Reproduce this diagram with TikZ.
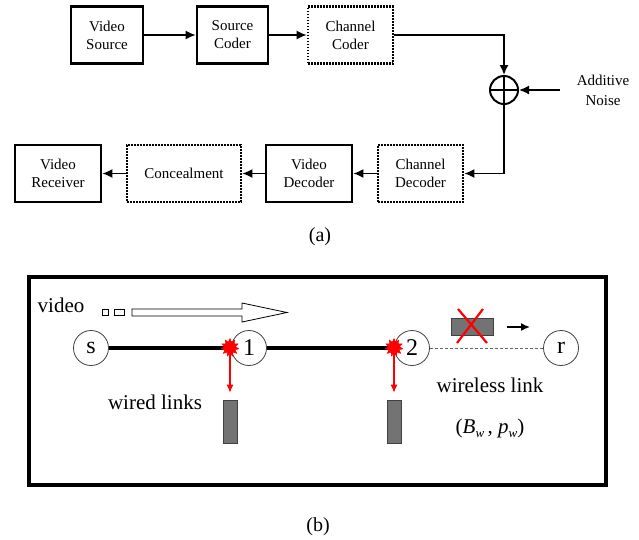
\documentclass[tikz,border=0pt]{standalone}
\usepackage{fontspec}
\setmainfont{Liberation Serif}
\usetikzlibrary{arrows.meta,shapes.geometric}
\begin{document}
\begin{tikzpicture}[x=1pt,y=-1pt,
  sbox/.style={draw,line width=2.6pt,minimum height=57pt,inner sep=0pt,align=center,font=\fontsize{15}{18}\selectfont},
  dbox/.style={sbox,dash pattern=on 1.6pt off 1.4pt},
  arr/.style={-{Latex[length=10pt,width=9pt]},line width=1.6pt},
  vnode/.style={circle,draw=black!75,line width=0.8pt,minimum size=35pt,inner sep=0pt,font=\fontsize{24}{24}\selectfont},
  splash/.style={star,star points=11,star point ratio=1.6,fill=red,draw=red,inner sep=0pt,minimum size=18pt},
  pkt/.style={fill=black!55,draw=black!75,line width=0.6pt,inner sep=0pt},
  redarr/.style={red,-{Latex[length=8pt,width=7pt]},line width=1.1pt},
  lbl/.style={font=\fontsize{21}{21}\selectfont},
  captext/.style={font=\fontsize{20}{20}\selectfont}]
\useasboundingbox (0,0) rectangle (639,539);
% ---------- (a) ----------
\node[sbox,minimum width=72pt] (vs) at (107,35) {Video\\Source};
\node[sbox,minimum width=71pt] (sc) at (232.5,35) {Source\\Coder};
\node[dbox,minimum width=85pt] (cc) at (350.5,35) {Channel\\Coder};
\node[circle,draw,line width=2pt,minimum size=28pt,inner sep=0pt] (add) at (504,90) {};
\draw[line width=2pt] (add.north) -- (add.south) (add.west) -- (add.east);
\node[align=center,font=\fontsize{15}{20}\selectfont] (noise) at (603,90) {Additive\\Noise};
\coordinate (nz) at (560,90);
\node[dbox,minimum width=85pt] (cd) at (420.5,173.5) {Channel\\Decoder};
\node[sbox,minimum width=86pt] (vd) at (309,173.5) {Video\\Decoder};
\node[dbox,minimum width=114pt] (con) at (184,173.5) {Concealment};
\node[sbox,minimum width=86pt] (vr) at (58,173.5) {Video\\Receiver};
\node[captext] (capa) at (320,237) {(a)};
\draw[arr] (vs) -- (sc);
\draw[arr] (sc) -- (cc);
\draw[arr] (cc.east) -| (add.north);
\draw[arr] (nz) -- (add.east);
\draw[arr] (add.south) |- (cd.east);
\draw[arr] (cd) -- (vd);
\draw[arr] (vd) -- (con);
\draw[arr] (con) -- (vr);
% ---------- (b) ----------
\draw[line width=4pt] (29,277) rectangle (606,485);
\node[lbl] (video) at (61,305) {video};
\draw[line width=0.8pt] (102,309) rectangle (108.5,315.5);
\draw[line width=0.8pt] (114,309) rectangle (124,315.5);
\draw[line width=0.8pt,fill=white] (132,309) -- (242,309) -- (242,303) -- (287,312.5) -- (242,322) -- (242,316) -- (132,316) -- cycle;
\node[vnode] (s) at (91,348) {s};
\node[vnode] (n1) at (249,348) {1};
\node[vnode] (n2) at (412,348) {2};
\node[vnode] (r) at (561,348) {r};
\draw[line width=3.5pt] (s) -- (n1);
\draw[line width=3.5pt] (n1) -- (n2);
\draw[dash pattern=on 3pt off 2pt,black!60,line width=1pt] (n2) -- (r);
\node[splash] (sp1) at (230,347.5) {};
\node[splash] (sp2) at (394,347.5) {};
\node[pkt,minimum width=14pt,minimum height=43pt] (b1) at (230,421.5) {};
\node[pkt,minimum width=14pt,minimum height=43pt] (b2) at (394,421.5) {};
\draw[redarr,shorten >=7pt] (sp1.center) -- (b1.north);
\draw[redarr,shorten >=7pt] (sp2.center) -- (b2.north);
\node[pkt,minimum width=42pt,minimum height=17pt] (pk) at (472,326.5) {};
\draw[red,line width=2.2pt] (458,309) -- (487,343);
\draw[red,line width=2.2pt] (483,309) -- (457,343);
\coordinate (m1) at (507,327);
\coordinate (m2) at (530,327);
\draw[-{Latex[length=9pt,width=8pt]},line width=1.6pt] (m1) -- (m2);
\node[lbl] (wired) at (155,402) {wired links};
\node[lbl] (wless) at (490,385) {wireless link};
\node[lbl] (bp) at (490,428) {(\textit{B}\raisebox{-0.45ex}{\fontsize{13}{13}\selectfont\textit{w}}\,, \textit{p}\raisebox{-0.45ex}{\fontsize{13}{13}\selectfont\textit{w}})};
\node[captext] (capb) at (318,527) {(b)};
\end{tikzpicture}
\end{document}
